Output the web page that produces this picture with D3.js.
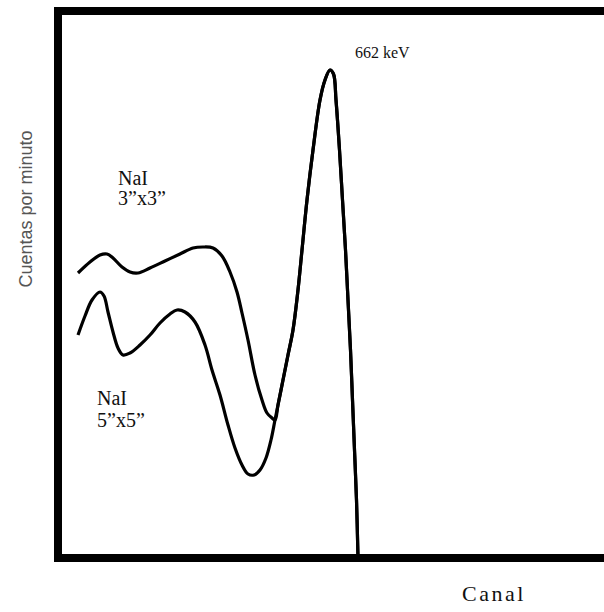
<!DOCTYPE html>
<html>
<head>
<meta charset="utf-8">
<script src="https://cdn.jsdelivr.net/npm/d3@7"></script>
<style>
  body { margin: 0; background: #fff; }
  svg { display: block; }
</style>
</head>
<body>
<svg id="chart" width="604" height="612"></svg>
<script>
// espectro NaI(Tl) del Cs-137 (canal, cuentas)
var canal3 = [20, 32, 42, 49, 55, 64, 72, 80, 92, 107, 122, 135, 145, 155, 164, 172, 179, 184, 190, 197, 204, 209, 214];
var cuentas3 = [285, 296, 303, 304, 300, 291, 286, 285, 290, 297, 304, 310, 311, 310, 302, 286, 266, 245, 218, 183, 158, 145, 140];

var canal5 = [20, 27, 34, 42, 46, 50, 55, 60, 65, 72, 82, 92, 102, 112, 119, 127, 137, 147, 154, 162, 170, 177, 184, 190, 196, 202, 208, 213];
var cuentas5 = [223, 242, 258, 266, 262, 246, 226, 210, 203, 205, 213, 223, 235, 244, 248, 246, 236, 213, 188, 163, 133, 110, 93, 84, 83, 88, 100, 118];

// fotopico 662 keV (comun a los dos detectores)
var canalPico = [217, 220, 225, 230, 235, 240, 244, 249, 255, 262, 267, 272, 275.5, 278, 281.5, 284.5, 287.5, 290, 292.5, 294.5, 296.5, 298.5, 300];
var cuentasPico = [138, 153, 178, 203, 228, 268, 308, 358, 408, 458, 478, 488, 484, 458, 408, 358, 308, 258, 208, 158, 108, 58, 0];

var etiquetas = [
  {texto: "NaI", canal: 60, cuentas: 373},
  {texto: "3\u201dx3\u201d", canal: 60, cuentas: 353},
  {texto: "NaI", canal: 39, cuentas: 153},
  {texto: "5\u201dx5\u201d", canal: 39, cuentas: 131}
];

var svg = d3.select("#chart");

var x = d3.scaleLinear().domain([0, 560]).range([58, 618]);
var y = d3.scaleLinear().domain([0, 547]).range([558, 11]);

function puntos(cs, vs) {
  return cs.map(function(c, i) { return [c, vs[i]]; });
}

var linea = d3.line()
  .x(function(d) { return x(d[0]); })
  .y(function(d) { return y(d[1]); })
  .curve(d3.curveCatmullRom.alpha(0.5));

var pico = puntos(canalPico, cuentasPico);
var serie3 = puntos(canal3, cuentas3).concat(pico);
var serie5 = puntos(canal5, cuentas5).concat(pico);

// marco (sin lado derecho visible)
svg.append("path")
  .attr("d", "M" + x(560) + "," + y(547) + "H" + x(0) + "V" + y(0) + "H" + x(560))
  .attr("fill", "none")
  .attr("stroke", "#000")
  .attr("stroke-width", 8);

[serie3, serie5].forEach(function(s) {
  svg.append("path")
    .datum(s)
    .attr("d", linea)
    .attr("fill", "none")
    .attr("stroke", "#000")
    .attr("stroke-width", 3.2)
    .attr("stroke-linejoin", "round");
});

svg.append("text")
  .attr("x", x(297))
  .attr("y", y(500))
  .attr("font-family", "Liberation Serif, serif")
  .attr("font-size", 16)
  .attr("fill", "#111")
  .text("662 keV");

svg.selectAll("text.det")
  .data(etiquetas)
  .enter().append("text")
  .attr("class", "det")
  .attr("x", function(d) { return x(d.canal); })
  .attr("y", function(d) { return y(d.cuentas); })
  .attr("font-family", "Liberation Serif, serif")
  .attr("font-size", 20)
  .attr("fill", "#111")
  .text(function(d) { return d.texto; });

svg.append("text")
  .attr("x", 462)
  .attr("y", 601)
  .attr("font-family", "Liberation Serif, serif")
  .attr("font-size", 22)
  .attr("letter-spacing", 2.5)
  .attr("fill", "#111")
  .text("Canal");

svg.append("text")
  .attr("transform", "translate(32,209) rotate(-90)")
  .attr("text-anchor", "middle")
  .attr("font-family", "Liberation Sans, sans-serif")
  .attr("font-size", 18)
  .attr("fill", "#555")
  .text("Cuentas por minuto");
</script>
</body>
</html>
